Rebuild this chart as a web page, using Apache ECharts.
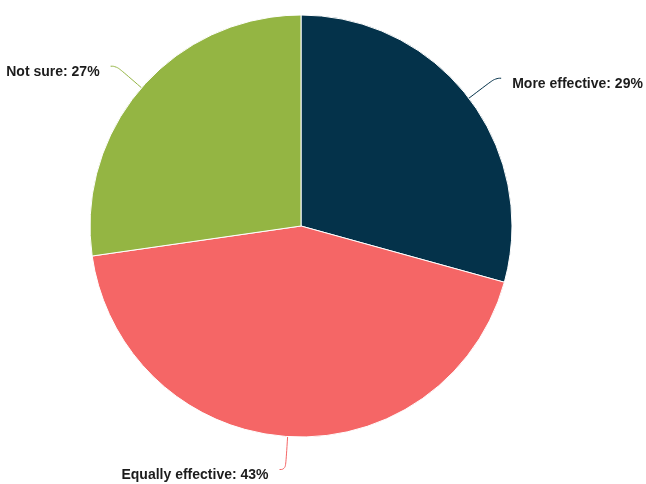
<!DOCTYPE html>
<html>
<head>
<meta charset="utf-8">
<script src="https://cdn.jsdelivr.net/npm/echarts@6/dist/echarts.min.js"></script>
<style>
  html, body { margin: 0; padding: 0; background: #ffffff; }
  #chart { width: 646px; height: 484px; }
</style>
</head>
<body>
<div id="chart"></div>
<script>
// Survey answers and their shares (percent)
const categories = ['More effective', 'Equally effective', 'Not sure'];
const shares = [29, 43, 27];
const sliceColors = ['#04324a', '#f56666', '#94b543'];

const chart = echarts.init(document.getElementById('chart'), null, { renderer: 'canvas' });

chart.setOption({
  animation: false,
  backgroundColor: '#ffffff',
  series: [{
    type: 'pie',
    center: [301, 226],
    radius: 211,
    startAngle: 90,
    clockwise: true,
    avoidLabelOverlap: false,
    data: categories.map((name, i) => ({
      name: name,
      value: shares[i],
      itemStyle: { color: sliceColors[i] }
    })),
    itemStyle: { borderColor: '#ffffff', borderWidth: 1 },
    label: {
      show: true,
      formatter: p => p.name + ': ' + p.value + '%',
      fontFamily: '"Liberation Sans", Arial, sans-serif',
      fontSize: 14,
      fontWeight: 'bold',
      color: '#1c1c1c',
      distanceToLabelLine: 11
    },
    // text sits a little below the end of its leader line
    labelLayout: () => ({ dy: 6 }),
    labelLine: {
      show: true,
      length: 33,
      length2: 6,
      smooth: 0.5,
      lineStyle: { width: 1 }
    },
    emphasis: { disabled: true }
  }]
});
</script>
</body>
</html>
